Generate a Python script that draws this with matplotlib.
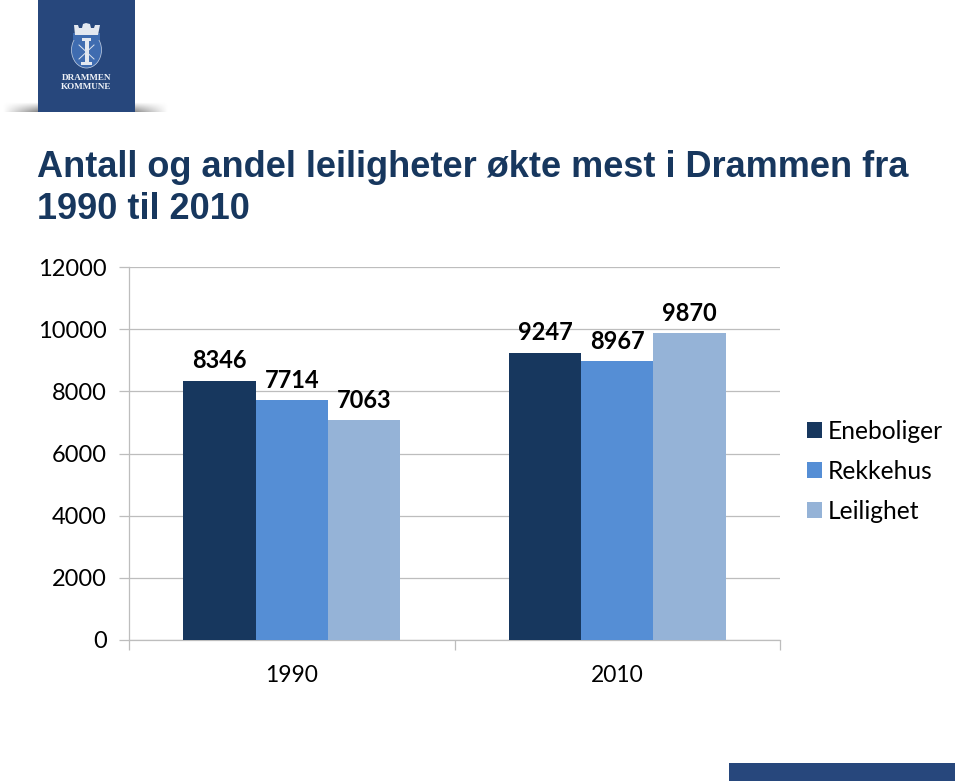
#!/usr/bin/env python
import numpy as np
from matplotlib import pyplot as plt
from matplotlib.patches import Rectangle, Polygon, Ellipse

W, H = 960, 781

years = ["1990", "2010"]
eneboliger = [8346, 9247]
rekkehus = [7714, 8967]
leilighet = [7063, 9870]
series_names = ["Eneboliger", "Rekkehus", "Leilighet"]
y_ticks = [0, 2000, 4000, 6000, 8000, 10000, 12000]
title = "Antall og andel leiligheter økte mest i Drammen fra\n1990 til 2010"

colors = ["#17375E", "#558ED5", "#95B3D7"]
gridcol = "#BDBDBD"
font = "Lato"

fig = plt.figure(figsize=(W/100., H/100.), dpi=100, facecolor="white")

# overlay in pixel coordinates for the slide decoration
deco = fig.add_axes([0, 0, 1, 1], zorder=0)
deco.set_xlim(0, W)
deco.set_ylim(H, 0)
deco.axis("off")

# shadow under the logo
fade = np.abs(np.linspace(-1, 1, 200))
fade = np.clip((1 - fade) * 2.2, 0, 1)
vert = np.linspace(0.0, 1, 12)[:, None]
deco.imshow(1 - 0.5 * vert * fade[None, :], cmap="gray", vmin=0, vmax=1, aspect="auto",
            extent=(3, 168, 112, 102), zorder=1)
deco.set_xlim(0, W)
deco.set_ylim(H, 0)

# logo block
deco.add_patch(Rectangle((38, 0), 97, 112, fc="#27477C", ec="none", zorder=2))
deco.add_patch(Ellipse((86.5, 50), 30, 36, fc="#3F6CB0", ec="#C8D4E6", lw=0.5, zorder=3))
deco.add_patch(Rectangle((73, 33), 27, 7, fc="#3F6CB0", ec="none", zorder=3))
deco.add_patch(Polygon([(75, 35), (74, 25), (78, 25), (79, 28), (82, 28), (83, 24), (86, 23), (90, 24),
                        (91, 28), (94, 28), (95, 25), (100, 25), (98, 35)],
                       fc="#E3E8F0", ec="none", zorder=4))
deco.add_patch(Rectangle((84.5, 39), 4, 24, fc="#E3E8F0", ec="none", zorder=4))
deco.add_patch(Rectangle((82, 38), 9, 2.5, fc="#E3E8F0", ec="none", zorder=4))
deco.add_patch(Rectangle((81, 62), 11, 3, fc="#E3E8F0", ec="none", zorder=4))
deco.plot([79, 94], [45, 59], color="#DDE4EE", lw=0.7, zorder=4)
deco.plot([94, 79], [45, 59], color="#DDE4EE", lw=0.7, zorder=4)
deco.text(86.5, 78, "DRAMMEN", ha="center", va="center", family="Liberation Serif",
          fontsize=6.6, color="#F0F3F8", fontweight="bold", zorder=5)
deco.text(86.5, 87, "KOMMUNE", ha="center", va="center", family="Liberation Serif",
          fontsize=6.6, color="#F0F3F8", fontweight="bold", zorder=5)

# bottom right block
deco.add_patch(Rectangle((729, 763), 226, 18, fc="#27477C", ec="none", zorder=2))

deco.text(37, 150, title, ha="left", va="top", family="Liberation Sans", fontweight="bold",
          fontsize=26, color="#17375E", linespacing=1.27)

# chart: axes span from the plot frame in the picture
ax = fig.add_axes([129./W, 1-640./H, (780-129.)/W, (640-267.)/H], zorder=1)
ax.patch.set_alpha(0)

x = np.arange(len(years))
width = 0.222
all_series = [eneboliger, rekkehus, leilighet]
for i, vals in enumerate(all_series):
    bars = ax.bar(x + (i-1)*width, vals, width, color=colors[i], label=series_names[i], zorder=3)
    for b, v in zip(bars, vals):
        ax.annotate(str(v), (b.get_x()+b.get_width()/2., v), xytext=(0, 6), textcoords="offset points",
                    ha="center", va="bottom", family=font, fontweight="bold", fontsize=17, color="black",
                    zorder=4)

ax.set_xlim(-0.5, 1.5)
ax.set_ylim(0, 12000)
ax.set_yticks(y_ticks)
ax.set_xticks(x)
ax.set_xticklabels(years)
ax.set_xticks([-0.5, 0.5, 1.5], minor=True)
ax.tick_params(axis="x", which="major", length=0, pad=18, labelsize=16.5, labelcolor="black")
ax.tick_params(axis="x", which="minor", length=7, width=0.9, color=gridcol)
ax.tick_params(axis="y", length=7, width=0.9, color=gridcol, pad=9, labelsize=17, labelcolor="black")
for lab in ax.get_xticklabels() + ax.get_yticklabels():
    lab.set_family(font)
ax.grid(axis="y", color=gridcol, lw=0.9, zorder=0)
ax.set_axisbelow(True)
for s in ["top", "right"]:
    ax.spines[s].set_visible(False)
for s in ["left", "bottom"]:
    ax.spines[s].set_color(gridcol)
    ax.spines[s].set_linewidth(0.9)

leg = ax.legend(loc="center left", bbox_to_anchor=(1.0415, 0.4525), frameon=False, prop={"family": font, "size": 17.7},
                handlelength=0.61, handleheight=0.61, handletextpad=0.24, labelspacing=0.69, borderaxespad=0, borderpad=0)

plt.savefig("out.png", dpi=100)
